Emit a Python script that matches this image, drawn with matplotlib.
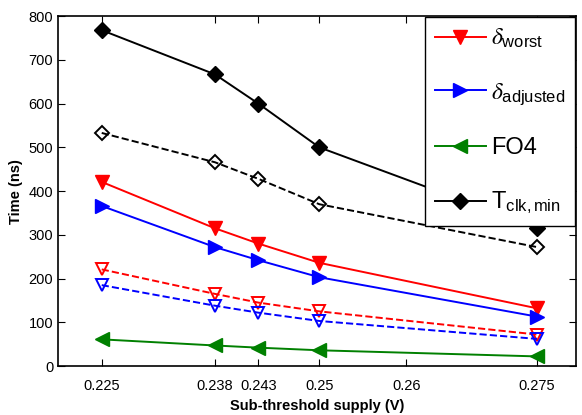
import matplotlib
matplotlib.use("Agg")
import matplotlib.pyplot as plt

plt.rcParams["font.family"] = ["Liberation Sans", "DejaVu Sans"]
plt.rcParams["mathtext.fontset"] = "stix"

# supply voltages (V)
supply = [0.225, 0.238, 0.243, 0.25, 0.275]
xticks = [0.225, 0.238, 0.243, 0.25, 0.26, 0.275]
xticklabels = ["0.225", "0.238", "0.243", "0.25", "0.26", "0.275"]

# times (ns); solid = first set, dashed = second set
delta_worst = [421, 315, 280, 236, 132]
delta_adjusted = [366, 272, 242, 203, 113]
fo4 = [61, 47, 42, 36, 22]
tclk_min = [768, 667, 600, 500, 316]

delta_worst_b = [221, 165, 145, 125, 72]
delta_adjusted_b = [185, 138, 122, 103, 62]
tclk_min_b = [533, 466, 428, 370, 272]

fig = plt.figure(figsize=(5.82, 4.15), dpi=100)
ax = fig.add_axes([0.1, 0.118, 0.89, 0.843])

lw = 1.4
ax.plot(supply, delta_worst, "-", color="red", marker="v", ms=10, lw=lw,
        label=r"$\delta_{\mathregular{worst}}$")
ax.plot(supply, delta_adjusted, "-", color="blue", marker=">", ms=10, lw=lw,
        label=r"$\delta_{\mathregular{adjusted}}$")
ax.plot(supply, fo4, "-", color="green", marker="<", ms=10, lw=lw,
        label="FO4")
ax.plot(supply, tclk_min, "-", color="black", marker="D", ms=8, lw=lw,
        label=r"T$_{\mathregular{clk,min}}$")

ax.plot(supply, delta_worst_b, "--", color="red", marker="v", ms=8, lw=lw,
        mfc="none", mew=1.4)
ax.plot(supply, delta_adjusted_b, "--", color="blue", marker="v", ms=8, lw=lw,
        mfc="none", mew=1.4)
ax.plot(supply, tclk_min_b, "--", color="black", marker="D", ms=7, lw=lw,
        mfc="none", mew=1.4)

ax.set_xlim(0.22, 0.2795)
ax.set_ylim(0, 800)
ax.set_xticks(xticks)
ax.set_xticklabels(xticklabels)
ax.set_yticks(range(0, 801, 100))
ax.tick_params(direction="in", top=True, right=True, labelsize=10.5, length=5)
ax.tick_params(axis="x", pad=9)
for s in ax.spines.values():
    s.set_linewidth(1.2)

ax.set_xlabel("Sub-threshold supply (V)", fontweight="bold", fontsize=10.5, labelpad=5)
ax.set_ylabel("Time (ns)", fontweight="bold", fontsize=10.5)

leg = ax.legend(loc="upper right", fontsize=17, fancybox=False, framealpha=1,
                edgecolor="black", handlelength=2.2, labelspacing=1.3,
                borderaxespad=0.05, handletextpad=0.2, borderpad=0.4)
leg.get_frame().set_linewidth(1.0)

fig.savefig("out.png", dpi=100)
